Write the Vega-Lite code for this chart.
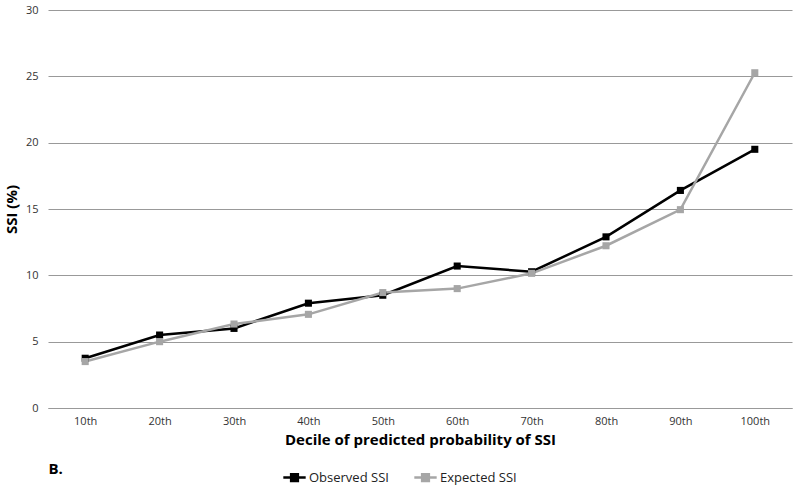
{
  "$schema": "https://vega.github.io/schema/vega-lite/v6.json",
  "autosize": "none",
  "width": 744,
  "height": 398,
  "padding": {"left": 48, "top": 10, "right": 8, "bottom": 79},
  "background": "white",
  "config": {
    "font": "Open Sans",
    "view": {"stroke": null}
  },
  "title": {
    "text": "B.",
    "orient": "bottom",
    "anchor": "start",
    "fontSize": 15,
    "fontWeight": "bold",
    "font": "Open Sans",
    "color": "#000",
    "offset": -24,
    "dx": 44
  },
  "data": {
    "values": [
      {"decile": "10th", "series": "Observed SSI", "value": 3.75},
      {"decile": "20th", "series": "Observed SSI", "value": 5.5},
      {"decile": "30th", "series": "Observed SSI", "value": 6.0},
      {"decile": "40th", "series": "Observed SSI", "value": 7.9},
      {"decile": "50th", "series": "Observed SSI", "value": 8.5},
      {"decile": "60th", "series": "Observed SSI", "value": 10.7},
      {"decile": "70th", "series": "Observed SSI", "value": 10.27},
      {"decile": "80th", "series": "Observed SSI", "value": 12.9},
      {"decile": "90th", "series": "Observed SSI", "value": 16.4},
      {"decile": "100th", "series": "Observed SSI", "value": 19.5},
      {"decile": "10th", "series": "Expected SSI", "value": 3.5},
      {"decile": "20th", "series": "Expected SSI", "value": 5.0},
      {"decile": "30th", "series": "Expected SSI", "value": 6.33},
      {"decile": "40th", "series": "Expected SSI", "value": 7.06},
      {"decile": "50th", "series": "Expected SSI", "value": 8.7},
      {"decile": "60th", "series": "Expected SSI", "value": 9.0},
      {"decile": "70th", "series": "Expected SSI", "value": 10.15},
      {"decile": "80th", "series": "Expected SSI", "value": 12.23},
      {"decile": "90th", "series": "Expected SSI", "value": 14.95},
      {"decile": "100th", "series": "Expected SSI", "value": 25.27}
    ]
  },
  "encoding": {
    "x": {
      "field": "decile",
      "type": "ordinal",
      "sort": null,
      "scale": {"paddingInner": 0, "paddingOuter": 0},
      "axis": {
        "title": "Decile of predicted probability of SSI",
        "titleFontSize": 15,
        "titleFontWeight": "bold",
        "titleColor": "#000",
        "titlePadding": 6,
        "labelAngle": 0,
        "labelFontSize": 11,
        "labelColor": "#333",
        "labelPadding": 7,
        "ticks": false,
        "domain": true,
        "domainColor": "#999",
        "domainWidth": 1,
        "grid": false
      }
    },
    "y": {
      "field": "value",
      "type": "quantitative",
      "scale": {"domain": [0, 30], "nice": false},
      "axis": {
        "title": "SSI (%)",
        "titleFontSize": 15,
        "titleFontWeight": "bold",
        "titleColor": "#000",
        "titlePadding": 6,
        "values": [0, 5, 10, 15, 20, 25, 30],
        "labelFontSize": 11,
        "labelColor": "#333",
        "labelPadding": 10,
        "ticks": false,
        "domain": false,
        "grid": true,
        "gridColor": "#999",
        "gridWidth": 1
      }
    },
    "color": {
      "field": "series",
      "type": "nominal",
      "sort": ["Observed SSI", "Expected SSI"],
      "scale": {"domain": ["Observed SSI", "Expected SSI"], "range": ["#000000", "#a6a6a6"]},
      "legend": {
        "title": null,
        "orient": "none",
        "legendX": 234,
        "legendY": 455,
        "direction": "horizontal",
        "labelFontSize": 13,
        "labelColor": "#222",
        "symbolType": "M-1,0L1,0M-0.3,-0.3L0.3,-0.3L0.3,0.3L-0.3,0.3Z",
        "symbolSize": 500,
        "symbolStrokeWidth": 2.5,
        "labelOffset": 2,
        "columnPadding": 20
      }
    }
  },
  "layer": [
    {"mark": {"type": "line", "strokeWidth": 2.5}, "encoding": {}},
    {"mark": {"type": "point", "shape": "square", "filled": true, "size": 50, "opacity": 1}, "encoding": {}}
  ]
}
